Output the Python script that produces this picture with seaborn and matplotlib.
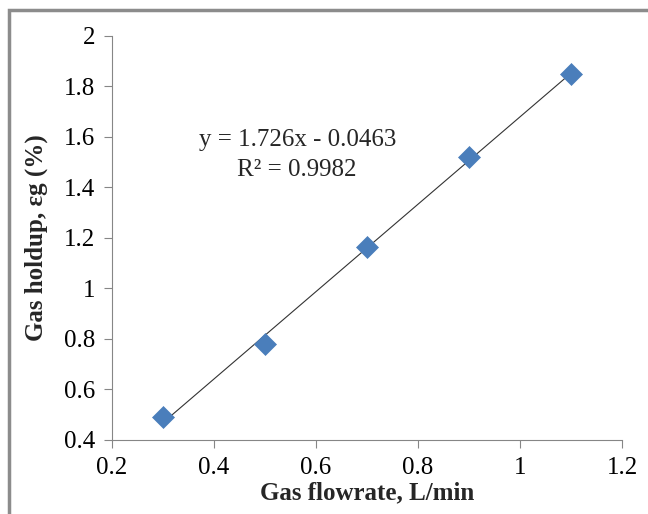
import numpy as np
import pandas as pd
import seaborn as sns
import matplotlib
matplotlib.use("Agg")
import matplotlib.pyplot as plt
from matplotlib.patches import Rectangle

flowrate = [0.3, 0.5, 0.7, 0.9, 1.1]
holdup = [0.49, 0.78, 1.165, 1.52, 1.85]
x_ticks = [0.2, 0.4, 0.6, 0.8, 1.0, 1.2]
x_tick_labels = ["0.2", "0.4", "0.6", "0.8", "1", "1.2"]
y_ticks = [0.4, 0.6, 0.8, 1.0, 1.2, 1.4, 1.6, 1.8, 2.0]
y_tick_labels = ["0.4", "0.6", "0.8", "1", "1.2", "1.4", "1.6", "1.8", "2"]
eq_line1 = "y = 1.726x - 0.0463"
eq_line2 = "R² = 0.9982"

sns.set_theme(style="white")
plt.rcParams['font.family'] = ['Liberation Serif', 'DejaVu Serif']

df = pd.DataFrame({"x": flowrate, "y": holdup})

fig = plt.figure(figsize=(6.48, 5.14), dpi=100)
ax = fig.add_axes([0.173, 0.144, 0.787, 0.786])

# fitted trend line
coef = np.polyfit(df["x"], df["y"], 1)
xl = np.array([min(flowrate), max(flowrate)])
sns.lineplot(x=xl, y=np.polyval(coef, xl), ax=ax, color="#333333", linewidth=0.8, zorder=2)
sns.scatterplot(data=df, x="x", y="y", ax=ax, marker="D", s=125, color="#4A7EBB",
                edgecolor="#4A7EBB", linewidth=0.5, zorder=3)

ax.set_xlim(0.2, 1.2)
ax.set_ylim(0.4, 2.0)
ax.set_xticks(x_ticks)
ax.set_xticklabels(x_tick_labels)
ax.set_yticks(y_ticks)
ax.set_yticklabels(y_tick_labels)
ax.tick_params(axis='both', labelsize=18, colors="#000000", length=6, width=0.8,
               direction='out', color="#868686", pad=6)
ax.tick_params(axis='x', bottom=True)
ax.tick_params(axis='y', left=True)
for s in ["top", "right"]:
    ax.spines[s].set_visible(False)
for s in ["left", "bottom"]:
    ax.spines[s].set_color("#868686")
    ax.spines[s].set_linewidth(0.8)

ax.set_xlabel("Gas flowrate, L/min", fontsize=18, fontweight="bold", labelpad=2)
ax.set_ylabel("Gas holdup, εg (%)", fontsize=18, fontweight="bold", labelpad=12)

ax.text(0.563, 1.588, eq_line1, ha="center", va="center", fontsize=18)
ax.text(0.563, 1.469, eq_line2, ha="center", va="center", fontsize=18)

# outer frame
fig.patches.append(Rectangle((9/648, -0.1), 1.2, 1 - 10/514 + 0.1, transform=fig.transFigure,
                             fill=False, edgecolor="#8c8c8c", linewidth=2.5, zorder=0))

fig.savefig("out.png", dpi=100)
